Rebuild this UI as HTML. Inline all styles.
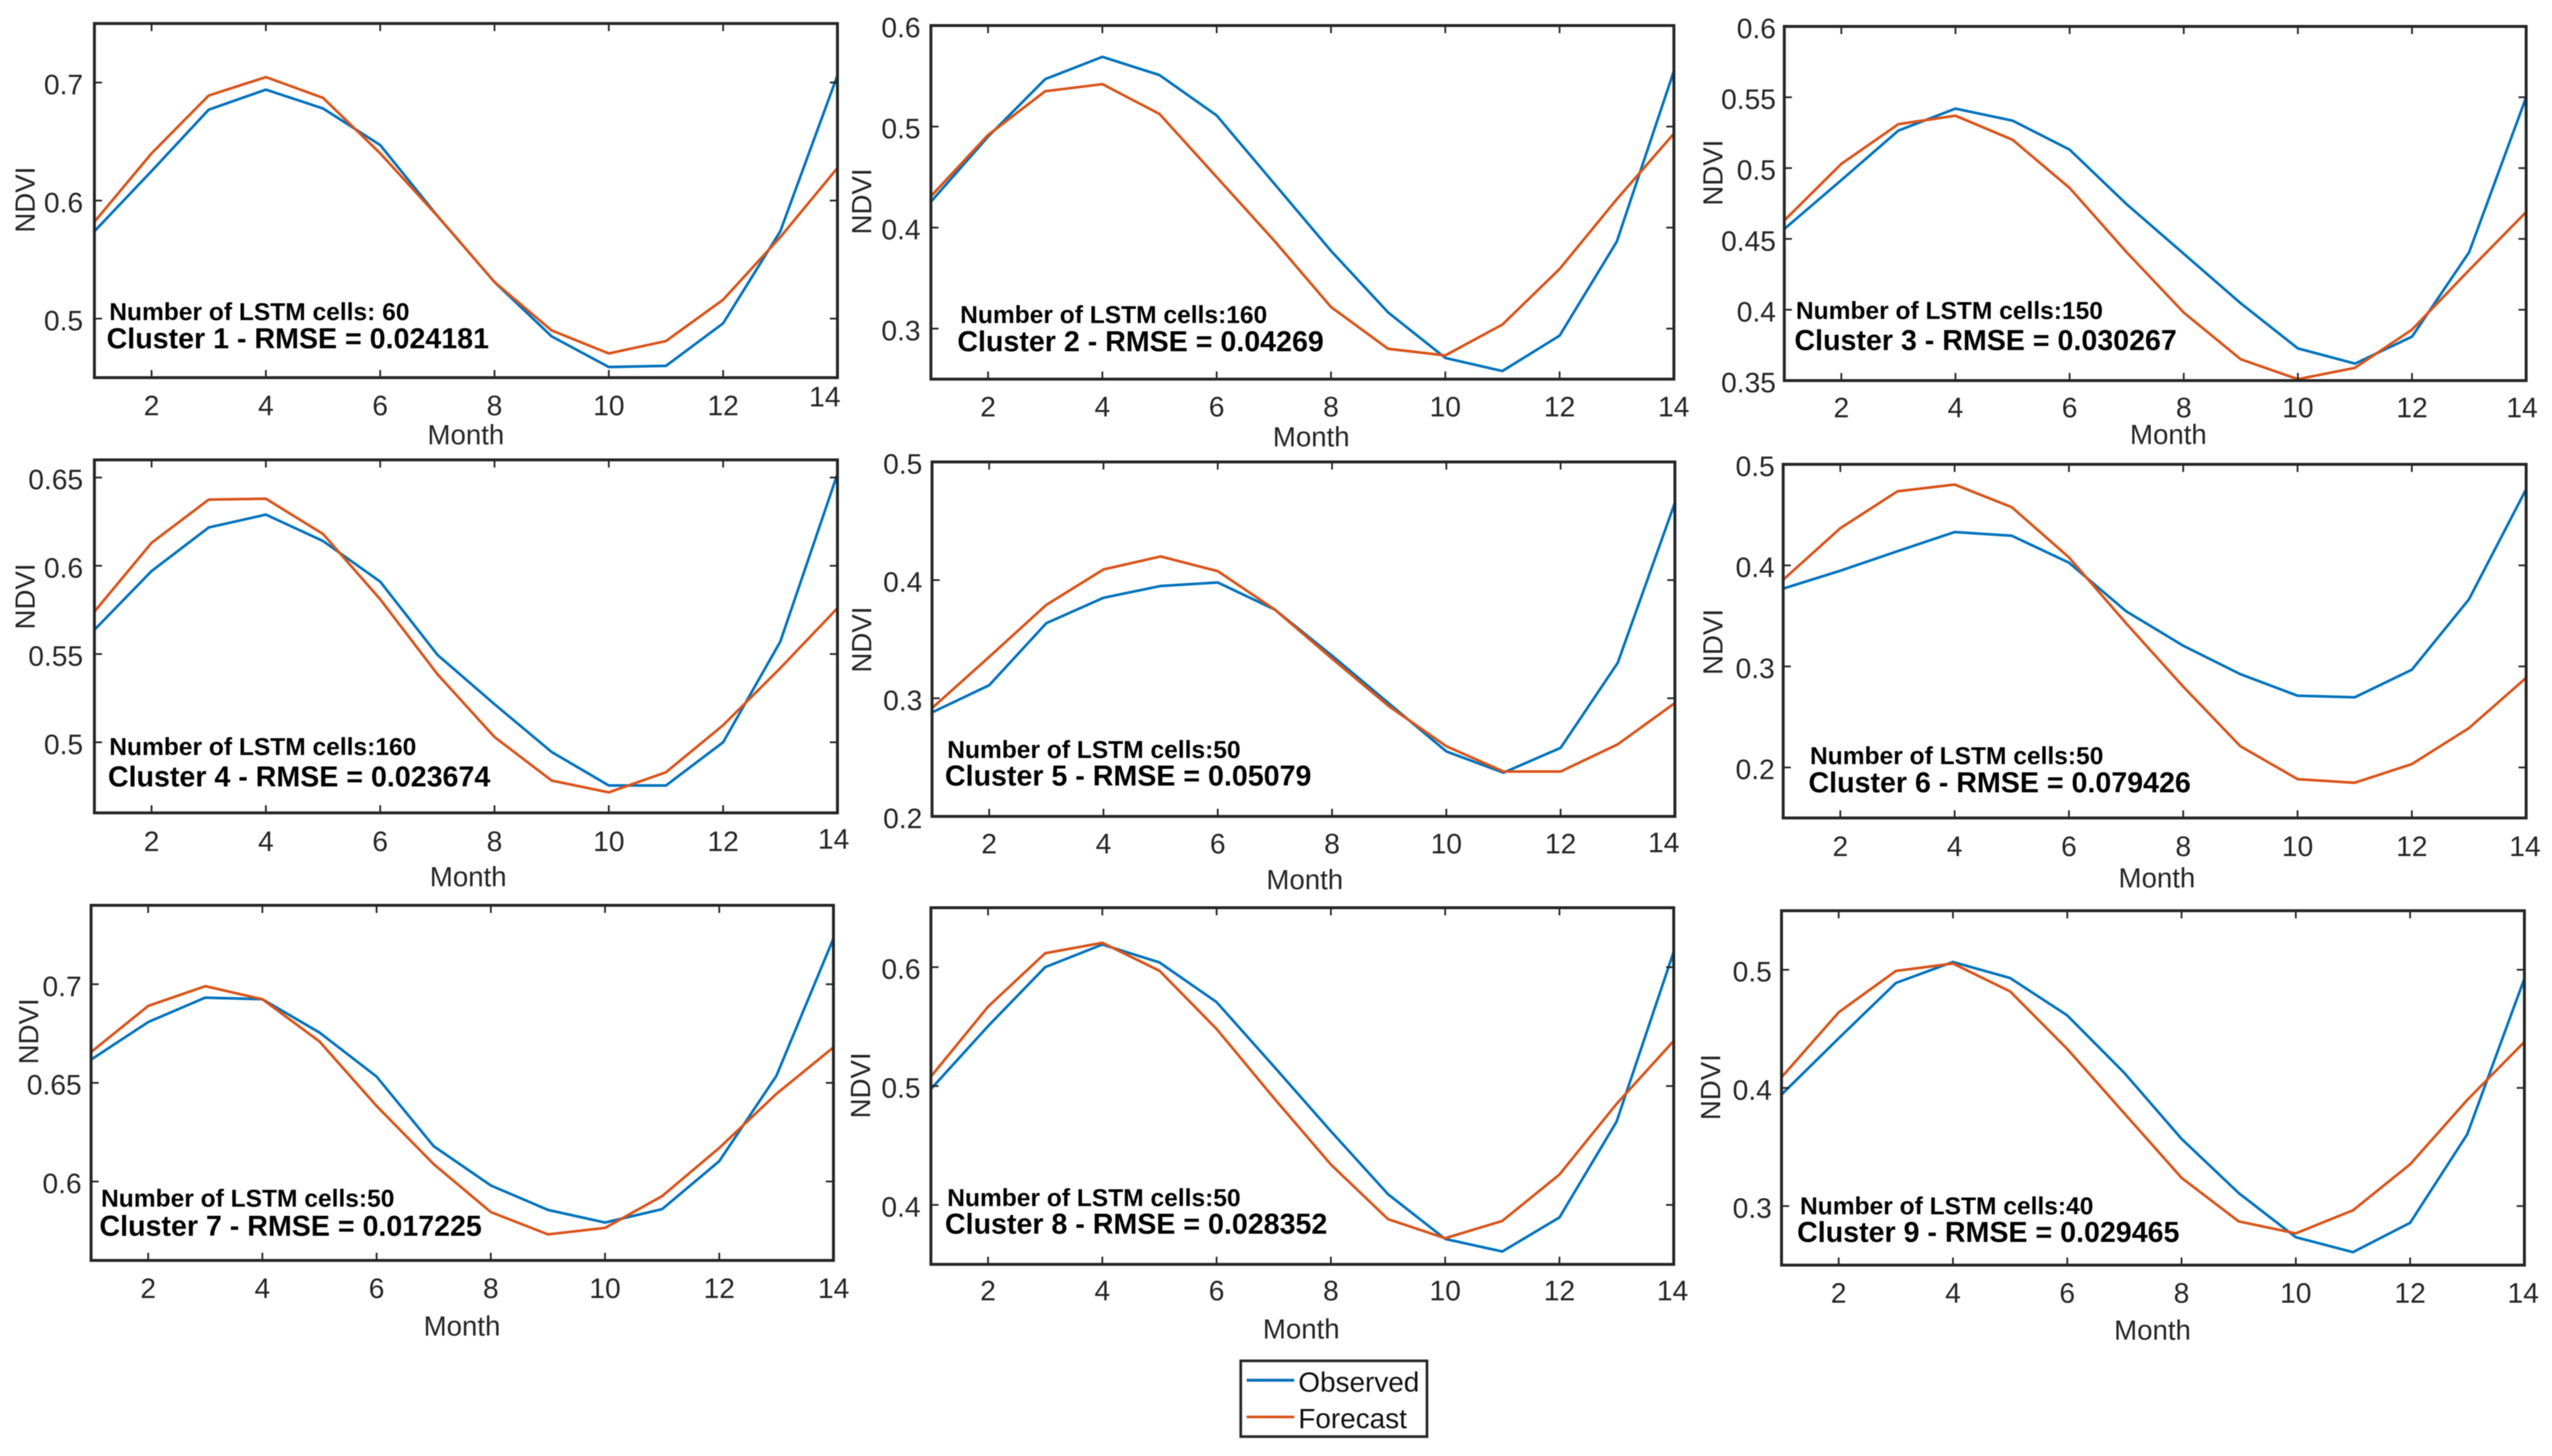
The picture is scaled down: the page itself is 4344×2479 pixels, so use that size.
<!DOCTYPE html>
<html lang="en">
<head>
<meta charset="utf-8">
<title>NDVI observed vs forecast by cluster</title>
<style>
  html, body { margin: 0; padding: 0; background: #ffffff; }
  body { width: 4344px; height: 2479px; overflow: hidden; }
  svg { display: block; font-family: "Liberation Sans", Arial, sans-serif; filter: blur(0.8px); }
</style>
</head>
<body>
<svg id="figure" xmlns="http://www.w3.org/2000/svg" width="4344" height="2479" viewBox="0 0 4344 2479">
  <rect x="0" y="0" width="4344" height="2479" fill="#ffffff"></rect>
  <g id="panels"></g>
  <g>
    <rect x="2112" y="2317" width="317" height="129" fill="#ffffff" stroke="#262626" stroke-width="4.5"></rect>
    <line x1="2122" y1="2350" x2="2203" y2="2350" stroke="#0072BD" stroke-width="5"></line>
    <text x="2210" y="2369.5" font-size="47.5" fill="#111111">Observed</text>
    <line x1="2122" y1="2412.5" x2="2203" y2="2412.5" stroke="#D95319" stroke-width="4.5"></line>
    <text x="2210" y="2431.5" font-size="47.5" fill="#111111">Forecast</text>
  </g>
</svg>
<script>
// ---- Chart data ----
const months = [1, 2, 3, 4, 5, 6, 7, 8, 9, 10, 11, 12, 13, 14];
const xTickValues = [2, 4, 6, 8, 10, 12, 14];

const observed1 = [0.574, 0.625, 0.677, 0.694, 0.678, 0.647, 0.587, 0.531, 0.485, 0.459, 0.460, 0.496, 0.574, 0.706];
const forecast1 = [0.582, 0.640, 0.689, 0.7046, 0.687, 0.640, 0.587, 0.531, 0.490, 0.4705, 0.481, 0.516, 0.569, 0.6276];
const observed2 = [0.4256, 0.490, 0.547, 0.569, 0.551, 0.511, 0.444, 0.377, 0.316, 0.271, 0.258, 0.293, 0.386, 0.555];
const forecast2 = [0.431, 0.4917, 0.535, 0.542, 0.5125, 0.450, 0.3875, 0.3214, 0.280, 0.2735, 0.304, 0.359, 0.428, 0.493];
const observed3 = [0.457, 0.4915, 0.5265, 0.542, 0.5335, 0.513, 0.4745, 0.4395, 0.4045, 0.3727, 0.362, 0.381, 0.4406, 0.550];
const forecast3 = [0.463, 0.503, 0.531, 0.537, 0.520, 0.486, 0.4406, 0.398, 0.365, 0.351, 0.359, 0.386, 0.428, 0.469];
const observed4 = [0.5637, 0.597, 0.6217, 0.629, 0.614, 0.591, 0.5496, 0.5216, 0.4945, 0.4755, 0.4755, 0.500, 0.557, 0.652];
const forecast4 = [0.574, 0.613, 0.6375, 0.638, 0.618, 0.581, 0.5386, 0.503, 0.4783, 0.4716, 0.483, 0.5097, 0.542, 0.576];
const observed5 = [0.288, 0.311, 0.3635, 0.385, 0.395, 0.398, 0.375, 0.336, 0.2954, 0.255, 0.237, 0.258, 0.330, 0.4655];
const forecast5 = [0.2916, 0.335, 0.379, 0.409, 0.420, 0.4076, 0.375, 0.3335, 0.293, 0.2594, 0.238, 0.238, 0.261, 0.296];
const observed6 = [0.377, 0.3947, 0.414, 0.433, 0.4294, 0.4027, 0.3546, 0.3205, 0.2923, 0.271, 0.2694, 0.2967, 0.3665, 0.4754];
const forecast6 = [0.3858, 0.4368, 0.4733, 0.480, 0.4576, 0.408, 0.3427, 0.280, 0.221, 0.1884, 0.1849, 0.2033, 0.239, 0.2887];
const observed7 = [0.6618, 0.6808, 0.6932, 0.6924, 0.6755, 0.6532, 0.6179, 0.598, 0.5856, 0.5792, 0.586, 0.6103, 0.6535, 0.7232];
const forecast7 = [0.6656, 0.689, 0.699, 0.6924, 0.671, 0.6383, 0.6088, 0.5845, 0.5732, 0.5765, 0.5926, 0.617, 0.6444, 0.668];
const observed8 = [0.4975, 0.5504, 0.600, 0.619, 0.604, 0.5706, 0.5166, 0.462, 0.409, 0.3714, 0.3608, 0.3895, 0.470, 0.613];
const forecast8 = [0.508, 0.5668, 0.6117, 0.6205, 0.597, 0.548, 0.490, 0.434, 0.388, 0.372, 0.3865, 0.4256, 0.485, 0.538];
const observed9 = [0.3944, 0.442, 0.4888, 0.5066, 0.493, 0.4614, 0.4127, 0.3569, 0.311, 0.2736, 0.261, 0.2858, 0.3607, 0.4926];
const forecast9 = [0.409, 0.464, 0.499, 0.5053, 0.4817, 0.433, 0.3784, 0.3239, 0.287, 0.2769, 0.2964, 0.3353, 0.3898, 0.439];

const observedSeries = [observed1, observed2, observed3, observed4, observed5, observed6, observed7, observed8, observed9];
const forecastSeries = [forecast1, forecast2, forecast3, forecast4, forecast5, forecast6, forecast7, forecast8, forecast9];

const yMinValues = [0.45, 0.25, 0.35, 0.46, 0.2, 0.15, 0.56, 0.35, 0.25];
const yMaxValues = [0.75, 0.6, 0.6, 0.66, 0.5, 0.5, 0.74, 0.65, 0.55];
const yTickLabels = [
  ['0.5', '0.6', '0.7'],
  ['0.3', '0.4', '0.5', '0.6'],
  ['0.35', '0.4', '0.45', '0.5', '0.55', '0.6'],
  ['0.5', '0.55', '0.6', '0.65'],
  ['0.2', '0.3', '0.4', '0.5'],
  ['0.2', '0.3', '0.4', '0.5'],
  ['0.6', '0.65', '0.7'],
  ['0.4', '0.5', '0.6'],
  ['0.3', '0.4', '0.5']
];
const cellNotes = [
  'Number of LSTM cells: 60', 'Number of LSTM cells:160', 'Number of LSTM cells:150',
  'Number of LSTM cells:160', 'Number of LSTM cells:50', 'Number of LSTM cells:50',
  'Number of LSTM cells:50', 'Number of LSTM cells:50', 'Number of LSTM cells:40'
];
const rmseNotes = [
  'Cluster 1 - RMSE = 0.024181', 'Cluster 2 - RMSE = 0.04269', 'Cluster 3 - RMSE = 0.030267',
  'Cluster 4 - RMSE = 0.023674', 'Cluster 5 - RMSE = 0.05079', 'Cluster 6 - RMSE = 0.079426',
  'Cluster 7 - RMSE = 0.017225', 'Cluster 8 - RMSE = 0.028352', 'Cluster 9 - RMSE = 0.029465'
];

// ---- Panel geometry (layout only, no data) ----
const panelBoxes = [
  { l: 160.7, r: 1425.5, t: 40, b: 643, labelRight: 141.5, xBase: 707, x14: 1404, x14Base: 692, monthX: 793, monthY: 756.7, ndviX: 59, ndviY: 340, n1x: 186, n1y: 545, n2x: 181.5, n2y: 593 },
  { l: 1584.6, r: 2849.3, t: 43.5, b: 645.5, labelRight: 1567, xBase: 709, x14: 2849, x14Base: 709, monthX: 2232, monthY: 760, ndviX: 1483, ndviY: 343, n1x: 1634.4, n1y: 550, n2x: 1629.6, n2y: 598 },
  { l: 3037.2, r: 4300, t: 45, b: 648, labelRight: 3023, xBase: 710.7, x14: 4293, x14Base: 710.7, monthX: 3691, monthY: 756, ndviX: 2932, ndviY: 294, n1x: 3057, n1y: 543, n2x: 3054.5, n2y: 596 },
  { l: 160.7, r: 1425.5, t: 783, b: 1384, labelRight: 141.5, xBase: 1448.8, x14: 1419, x14Base: 1445, monthX: 797, monthY: 1509, ndviX: 59, ndviY: 1015.6, n1x: 186, n1y: 1285.5, n2x: 183.7, n2y: 1339 },
  { l: 1586.5, r: 2851, t: 786.5, b: 1390, labelRight: 1570, xBase: 1452.8, x14: 2832, x14Base: 1451, monthX: 2221, monthY: 1514, ndviX: 1483, ndviY: 1089, n1x: 1612.4, n1y: 1290.6, n2x: 1608.5, n2y: 1337.5 },
  { l: 3035.3, r: 4300, t: 790.6, b: 1392.7, labelRight: 3021, xBase: 1457.5, x14: 4298, x14Base: 1457.5, monthX: 3671.5, monthY: 1511, ndviX: 2932, ndviY: 1093, n1x: 3081, n1y: 1300.8, n2x: 3078.4, n2y: 1349 },
  { l: 155, r: 1418.7, t: 1541.4, b: 2146, labelRight: 139, xBase: 2209.8, x14: 1419, x14Base: 2209.8, monthX: 786.4, monthY: 2274, ndviX: 65, ndviY: 1756, n1x: 172, n1y: 2054.7, n2x: 169.3, n2y: 2104 },
  { l: 1584.6, r: 2849, t: 1545.5, b: 2152.7, labelRight: 1567, xBase: 2214, x14: 2847, x14Base: 2214, monthX: 2215, monthY: 2279, ndviX: 1481, ndviY: 1848, n1x: 1612.4, n1y: 2053.7, n2x: 1608.5, n2y: 2100.6 },
  { l: 3032.5, r: 4297, t: 1550.6, b: 2154, labelRight: 3016, xBase: 2218, x14: 4295, x14Base: 2218, monthX: 3664, monthY: 2281, ndviX: 2928, ndviY: 1851, n1x: 3064, n1y: 2067.5, n2x: 3059, n2y: 2114.4 }
];

const SVG_NS = 'http://www.w3.org/2000/svg';
const AXIS_COLOR = '#262626';
const TICK_LENGTH = 13;
const panelsRoot = document.getElementById('panels');

function xScale(box, month) {
  const first = months[0];
  const last = months[months.length - 1];
  return box.l + (month - first) / (last - first) * (box.r - box.l);
}
function yScale(box, index, value) {
  return box.b - (value - yMinValues[index]) / (yMaxValues[index] - yMinValues[index]) * (box.b - box.t);
}
function makeLine(parent, x1, y1, x2, y2, width) {
  const el = document.createElementNS(SVG_NS, 'line');
  el.setAttribute('x1', x1);
  el.setAttribute('y1', y1);
  el.setAttribute('x2', x2);
  el.setAttribute('y2', y2);
  el.setAttribute('stroke', AXIS_COLOR);
  el.setAttribute('stroke-width', width);
  parent.appendChild(el);
  return el;
}
function makeText(parent, x, y, size, content, anchor, weight, color) {
  const el = document.createElementNS(SVG_NS, 'text');
  el.setAttribute('x', x);
  el.setAttribute('y', y);
  el.setAttribute('font-size', size);
  el.setAttribute('text-anchor', anchor);
  el.setAttribute('font-weight', weight);
  el.setAttribute('fill', color);
  el.textContent = content;
  parent.appendChild(el);
  return el;
}
function makeSeries(parent, box, index, values, color) {
  const el = document.createElementNS(SVG_NS, 'path');
  const d = values.map(function (v, i) {
    return (i === 0 ? 'M' : 'L') + xScale(box, months[i]).toFixed(1) + ' ' + yScale(box, index, v).toFixed(1);
  }).join(' ');
  el.setAttribute('d', d);
  el.setAttribute('fill', 'none');
  el.setAttribute('stroke', color);
  el.setAttribute('stroke-width', '4.5');
  el.setAttribute('stroke-linejoin', 'round');
  parent.appendChild(el);
  return el;
}

panelBoxes.forEach(function (box, index) {
  const panel = document.createElementNS(SVG_NS, 'g');
  
  
  panelsRoot.appendChild(panel);

  const observedLine = makeSeries(panel, box, index, observedSeries[index], '#0072BD');
  
  
  const forecastLine = makeSeries(panel, box, index, forecastSeries[index], '#D95319');
  
  

  const frame = document.createElementNS(SVG_NS, 'rect');
  frame.setAttribute('x', box.l);
  frame.setAttribute('y', box.t);
  frame.setAttribute('width', box.r - box.l);
  frame.setAttribute('height', box.b - box.t);
  frame.setAttribute('fill', 'none');
  frame.setAttribute('stroke', AXIS_COLOR);
  frame.setAttribute('stroke-width', '5');
  
  
  panel.appendChild(frame);

  xTickValues.forEach(function (m) {
    const x = xScale(box, m);
    const tickBottom = makeLine(panel, x, box.b, x, box.b - TICK_LENGTH, 3);
    
    
    const tickTop = makeLine(panel, x, box.t, x, box.t + TICK_LENGTH, 3);
    
    
    const isLast = m === 14;
    const label = makeText(panel, isLast ? box.x14 : x, isLast ? box.x14Base : box.xBase, 48, String(m), 'middle', 'normal', AXIS_COLOR);
    
    
  });

  yTickLabels[index].forEach(function (tickText) {
    const y = yScale(box, index, parseFloat(tickText));
    const tickLeft = makeLine(panel, box.l, y, box.l + TICK_LENGTH, y, 3);
    
    
    const tickRight = makeLine(panel, box.r, y, box.r - TICK_LENGTH, y, 3);
    
    
    const label = makeText(panel, box.labelRight, y + 20, 48, tickText, 'end', 'normal', AXIS_COLOR);
    
    
  });

  const xTitle = makeText(panel, box.monthX, box.monthY, 47, 'Month', 'middle', 'normal', AXIS_COLOR);
  
  

  const yTitle = makeText(panel, 0, 0, 47, 'NDVI', 'middle', 'normal', AXIS_COLOR);
  yTitle.setAttribute('transform', 'translate(' + box.ndviX + ' ' + box.ndviY + ') rotate(-90)');
  
  

  const cellNote = makeText(panel, box.n1x, box.n1y, 41.8, cellNotes[index], 'start', 'bold', '#000000');
  
  

  const rmseNote = makeText(panel, box.n2x, box.n2y, 48.7, rmseNotes[index], 'start', 'bold', '#000000');
  
  
});
</script>
</body>
</html>
